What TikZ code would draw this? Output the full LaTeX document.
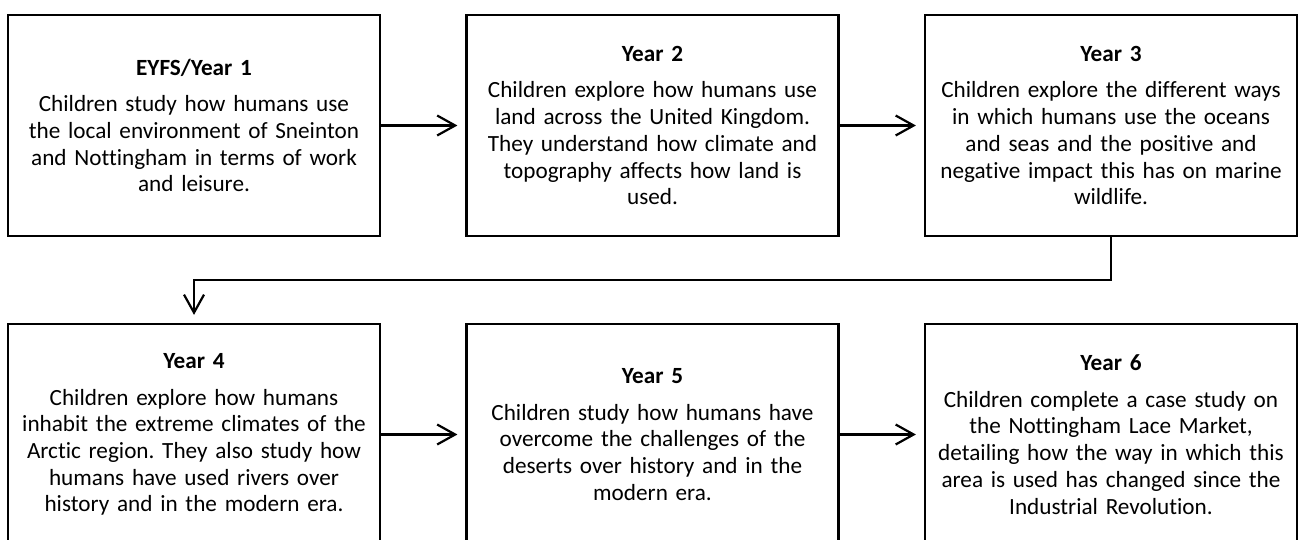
\documentclass[tikz,border=0pt]{standalone}
\usepackage{fontspec}
\setmainfont{Carlito}[Ligatures=NoCommon]
\usetikzlibrary{arrows.meta}
\tikzset{
  yearbox/.style={draw=black, line width=2.2pt, minimum width=372pt, minimum height=221pt,
    text width=366pt, align=center, inner sep=0pt,
    font=\fontsize{23.2pt}{26.7pt}\selectfont},
  flowarrow/.style={line width=2.2pt, -{Straight Barb[length=18pt,width=20pt,line width=2.2pt]}, shorten >=8pt}
}
\newcommand{\yeartitle}[1]{\textbf{#1}\\[10pt]}
\frenchspacing
\begin{document}
\begin{tikzpicture}[x=1pt,y=-1pt]
\useasboundingbox (0,0) rectangle (1303,540);
\clip (0,0) rectangle (1303,540);
\fill[white] (0,0) rectangle (1303,540);
\node[yearbox] (y1) at (194,125.5) {\yeartitle{EYFS/Year 1}Children study how humans use\\the local environment of Sneinton\\and Nottingham in terms of work\\and leisure.};
\node[yearbox] (y2) at (652.5,125.5) {\yeartitle{Year 2}Children explore how humans use\\land across the United Kingdom.\\They understand how climate and\\topography affects how land is\\used.};
\node[yearbox] (y3) at (1111,125.5) {\yeartitle{Year 3}Children explore the different ways\\in which humans use the oceans\\and seas and the positive and\\negative impact this has on marine\\wildlife.};
\node[yearbox] (y4) at (194,434.5) {\yeartitle{Year 4}Children explore how humans\\inhabit the extreme climates of the\\Arctic region. They also study how\\humans have used rivers over\\history and in the modern era.};
\node[yearbox] (y5) at (652.5,434.5) {\yeartitle{Year 5}Children study how humans have\\overcome the challenges of the\\deserts over history and in the\\modern era.};
\node[yearbox] (y6) at (1111,434.5) {\yeartitle{Year 6}Children complete a case study on\\the Nottingham Lace Market,\\detailing how the way in which this\\area is used has changed since the\\Industrial Revolution.};
\coordinate (turn) at (1111,280);
\draw[flowarrow] (y1.east) -- (y2.west);
\draw[flowarrow] (y2.east) -- (y3.west);
\draw[flowarrow] (y3.south) -- (turn) -| (y4.north);
\draw[flowarrow] (y4.east) -- (y5.west);
\draw[flowarrow] (y5.east) -- (y6.west);
\end{tikzpicture}
\end{document}
